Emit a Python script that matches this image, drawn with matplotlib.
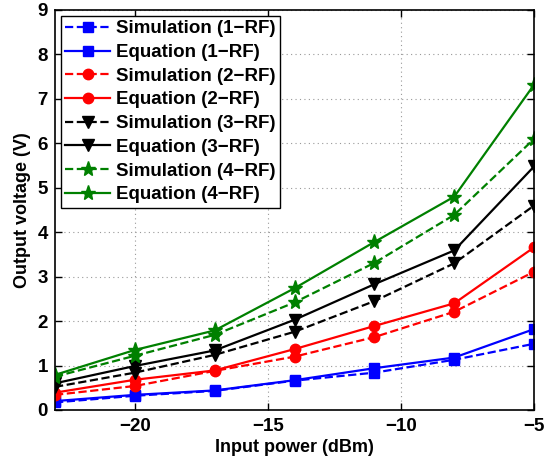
import numpy as np
import matplotlib.pyplot as plt

plt.rcParams['font.family'] = ['Liberation Sans', 'DejaVu Sans']
plt.rcParams['font.weight'] = 'bold'

# input power (dBm)
p_in = [-23, -20, -17, -14, -11, -8, -5]

# output voltage (V)
sim_1rf = [0.17, 0.32, 0.43, 0.66, 0.84, 1.13, 1.49]
eq_1rf = [0.20, 0.34, 0.44, 0.67, 0.94, 1.18, 1.82]
sim_2rf = [0.34, 0.54, 0.88, 1.20, 1.64, 2.21, 3.11]
eq_2rf = [0.39, 0.68, 0.89, 1.37, 1.89, 2.40, 3.66]
sim_3rf = [0.52, 0.84, 1.24, 1.76, 2.45, 3.30, 4.60]
eq_3rf = [0.60, 0.99, 1.34, 2.03, 2.83, 3.59, 5.48]
sim_4rf = [0.75, 1.22, 1.69, 2.42, 3.31, 4.39, 6.10]
eq_4rf = [0.79, 1.35, 1.79, 2.74, 3.78, 4.80, 7.32]

green = (0, 0.5, 0)

fig = plt.figure(figsize=(5.45, 4.62), dpi=100)
ax = fig.add_axes([0.101, 0.1126, 0.879, 0.8658])

lw = 1.6
ax.plot(p_in, sim_1rf, '--s', color='b', lw=lw, ms=6.5, label='Simulation (1\u2212RF)')
ax.plot(p_in, eq_1rf, '-s', color='b', lw=lw, ms=6.5, label='Equation (1\u2212RF)')
ax.plot(p_in, sim_2rf, '--o', color='r', lw=lw, ms=7.5, label='Simulation (2\u2212RF)')
ax.plot(p_in, eq_2rf, '-o', color='r', lw=lw, ms=7.5, label='Equation (2\u2212RF)')
ax.plot(p_in, sim_3rf, '--v', color='k', lw=lw, ms=8.5, label='Simulation (3\u2212RF)')
ax.plot(p_in, eq_3rf, '-v', color='k', lw=lw, ms=8.5, label='Equation (3\u2212RF)')
ax.plot(p_in, sim_4rf, '--*', color=green, lw=lw, ms=11, label='Simulation (4\u2212RF)')
ax.plot(p_in, eq_4rf, '-*', color=green, lw=lw, ms=11, label='Equation (4\u2212RF)')

ax.set_xlim(-23, -5)
ax.set_ylim(0, 9)
ax.set_xticks([-20, -15, -10, -5])
ax.set_xticklabels(['\u221220', '\u221215', '\u221210', '\u22125'])
ax.set_yticks(range(0, 10))
ax.tick_params(direction='in', top=True, right=True, labelsize=13.5, width=1, length=5)
ax.tick_params(axis='x', pad=6)
ax.tick_params(axis='y', pad=5)
for s in ax.spines.values():
    s.set_linewidth(1.2)

ax.grid(True, linestyle=(0, (1, 3)), color='0.6', linewidth=0.8)

ax.set_xlabel('Input power (dBm)', fontsize=13, fontweight='bold', labelpad=3)
ax.set_ylabel('Output voltage (V)', fontsize=13, fontweight='bold', labelpad=5)

leg = ax.legend(loc='upper left', fontsize=13.5, fancybox=False, framealpha=1,
                edgecolor='k', handlelength=2.4, borderaxespad=0.3,
                labelspacing=0.35, handletextpad=0.3, borderpad=0.25)
leg.get_frame().set_linewidth(1.0)

fig.savefig('out.png', dpi=100)
